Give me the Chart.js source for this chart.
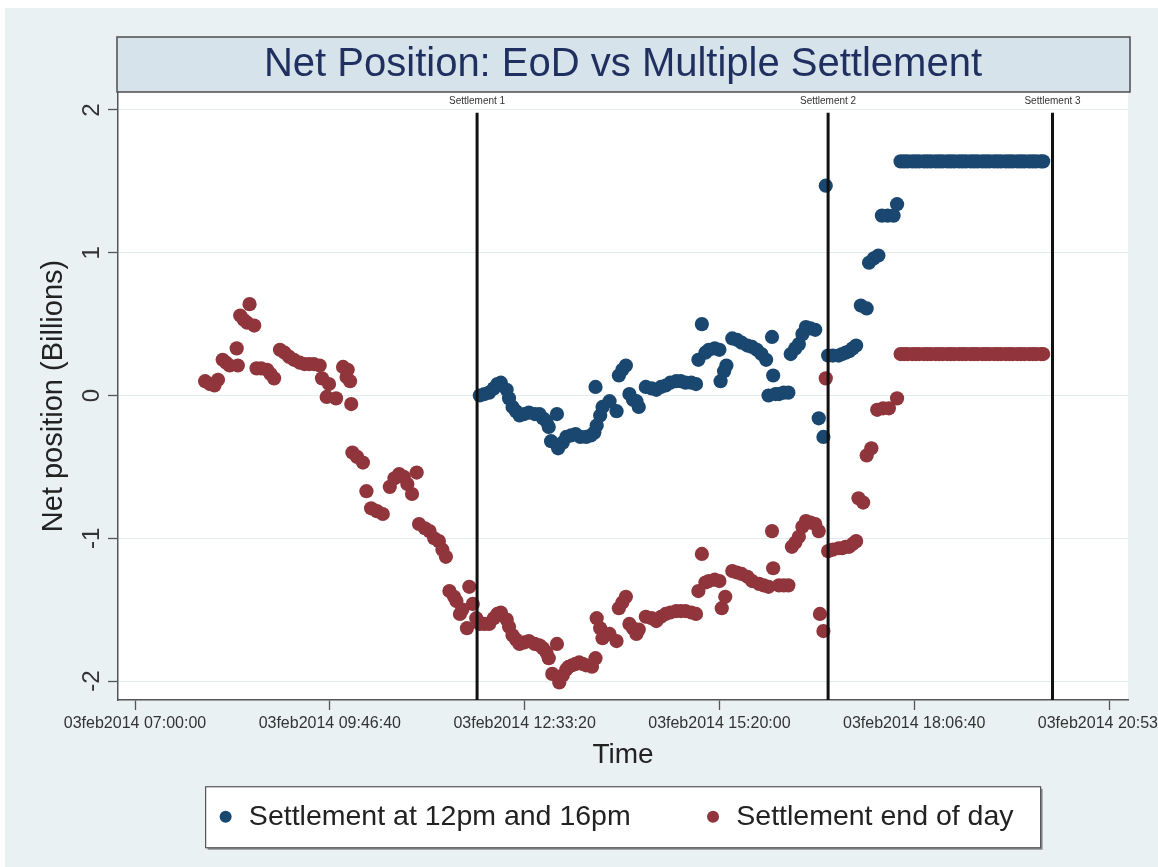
<!DOCTYPE html>
<html><head><meta charset="utf-8">
<script src="https://cdn.jsdelivr.net/npm/chart.js@4.4.1/dist/chart.umd.min.js"></script>
<style>html,body{margin:0;padding:0;background:#fff;overflow:hidden}canvas{display:block}</style>
</head><body>
<canvas id="c" width="1158" height="867"></canvas>
<script>
const chartTitle = 'Net Position: EoD vs Multiple Settlement';
const xTitle = 'Time';
const yTitle = 'Net position (Billions)';
const datePrefix = '03feb2014';
const xTickTimes = ['07:00:00','09:46:40','12:33:20','15:20:00','18:06:40','20:53:20'];
const yTickValues = [-2,-1,0,1,2];
const seriesNames = ['Settlement at 12pm and 16pm','Settlement end of day'];
const settlementNames = ['Settlement 1','Settlement 2','Settlement 3'];
const settlementTimes = ['11:52:40','16:53:00','20:05:00'];

// Settlement at 12pm and 16pm
const multiTimes = ['11:55','11:59','12:03','12:07','12:10','12:13','12:18','12:20','12:23','12:26','12:29','12:33','12:37','12:42','12:46','12:49','12:52','12:54','12:56','13:01','13:02','13:06','13:09','13:13','13:17','13:21','13:26','13:30','13:33','13:34','13:35','13:38','13:40','13:46','13:52','13:54','13:57','14:00','14:03','14:06','14:09','14:11','14:17','14:22','14:26','14:30','14:34','14:38','14:43','14:47','14:51','14:56','15:00','15:02','15:05','15:08','15:11','15:16','15:20','15:21','15:24','15:26','15:31','15:35','15:39','15:44','15:48','15:52','15:56','16:00','16:02','16:05','16:06','16:08','16:11','16:15','16:19','16:21','16:25','16:28','16:31','16:34','16:38','16:42','16:45','16:49','16:51','16:53','16:57','17:02','17:05','17:08','17:11','17:14','17:17','17:21','17:26','17:28','17:32','17:36','17:39','17:44','17:49','17:52'];
const multiValues = [0.00,0.01,0.02,0.05,0.08,0.09,0.04,-0.02,-0.08,-0.11,-0.14,-0.13,-0.12,-0.13,-0.13,-0.16,-0.18,-0.22,-0.32,-0.13,-0.37,-0.33,-0.29,-0.28,-0.27,-0.29,-0.29,-0.28,-0.26,0.06,-0.21,-0.14,-0.08,-0.04,-0.11,0.14,0.18,0.21,0.01,-0.03,-0.04,-0.08,0.06,0.05,0.04,0.06,0.07,0.09,0.10,0.10,0.09,0.09,0.08,0.25,0.50,0.30,0.32,0.33,0.32,0.10,0.17,0.21,0.40,0.39,0.37,0.35,0.34,0.32,0.29,0.25,0.00,0.41,0.14,0.01,0.01,0.02,0.02,0.29,0.33,0.36,0.43,0.48,0.47,0.46,-0.16,-0.29,1.47,0.28,0.28,0.28,0.29,0.30,0.31,0.33,0.35,0.63,0.61,0.93,0.96,0.98,1.26,1.26,1.26,1.34];

// Settlement end of day
const eodTimes = ['08:00','08:04','08:08','08:11','08:15','08:18','08:21','08:27','08:28','08:30','08:33','08:36','08:38','08:42','08:44','08:48','08:53','08:56','08:59','09:04','09:08','09:12','09:16','09:21','09:25','09:29','09:33','09:38','09:40','09:44','09:46','09:52','09:58','10:01','10:02','10:04','10:05','10:06','10:10','10:15','10:18','10:22','10:27','10:32','10:38','10:42','10:46','10:50','10:53','10:57','11:01','11:03','11:08','11:12','11:16','11:20','11:23','11:26','11:29','11:33','11:35','11:38','11:40','11:44','11:46','11:49','11:52','11:55','11:59','12:03','12:07','12:10','12:13','12:18','12:20','12:23','12:26','12:29','12:33','12:37','12:42','12:46','12:49','12:52','12:54','12:57','13:01','13:03','13:06','13:09','13:11','13:14','13:17','13:20','13:23','13:26','13:31','13:34','13:35','13:38','13:40','13:46','13:52','13:54','13:57','14:00','14:03','14:06','14:09','14:11','14:17','14:22','14:26','14:30','14:34','14:38','14:43','14:47','14:51','14:56','15:00','15:02','15:05','15:08','15:11','15:16','15:20','15:22','15:25','15:31','15:35','15:39','15:44','15:48','15:54','15:58','16:02','16:05','16:06','16:11','16:15','16:19','16:22','16:25','16:28','16:31','16:34','16:38','16:42','16:45','16:46','16:49','16:51','16:53','16:57','17:02','17:05','17:08','17:11','17:14','17:17','17:19','17:23','17:26','17:30','17:35','17:40','17:45','17:52'];
const eodValues = [0.10,0.08,0.07,0.11,0.25,0.23,0.21,0.33,0.21,0.56,0.53,0.51,0.64,0.49,0.19,0.19,0.18,0.15,0.12,0.32,0.30,0.27,0.25,0.23,0.22,0.22,0.22,0.21,0.12,-0.01,0.08,-0.02,0.20,0.13,0.18,0.10,-0.06,-0.40,-0.43,-0.47,-0.67,-0.79,-0.81,-0.83,-0.64,-0.58,-0.55,-0.57,-0.62,-0.69,-0.54,-0.90,-0.93,-0.95,-1.00,-1.02,-1.08,-1.13,-1.37,-1.41,-1.44,-1.53,-1.50,-1.63,-1.34,-1.46,-1.56,-1.60,-1.60,-1.60,-1.56,-1.53,-1.52,-1.57,-1.62,-1.68,-1.71,-1.74,-1.73,-1.72,-1.74,-1.75,-1.77,-1.80,-1.84,-1.95,-1.74,-2.01,-1.96,-1.92,-1.90,-1.89,-1.88,-1.87,-1.88,-1.89,-1.90,-1.84,-1.56,-1.63,-1.70,-1.67,-1.72,-1.49,-1.45,-1.41,-1.60,-1.63,-1.67,-1.64,-1.55,-1.56,-1.58,-1.55,-1.53,-1.52,-1.51,-1.51,-1.51,-1.52,-1.53,-1.37,-1.11,-1.31,-1.30,-1.29,-1.30,-1.49,-1.41,-1.23,-1.24,-1.25,-1.27,-1.30,-1.32,-1.33,-1.34,-0.95,-1.21,-1.33,-1.33,-1.33,-1.06,-1.03,-0.99,-0.92,-0.88,-0.89,-0.90,-0.95,-1.53,-1.65,0.12,-1.09,-1.08,-1.07,-1.07,-1.06,-1.06,-1.04,-1.02,-0.72,-0.75,-0.42,-0.37,-0.10,-0.09,-0.09,-0.02];

// after the last settlement window both series stay flat
const closingTimes = ['17:55','17:58','18:01','18:05','18:08','18:11','18:15','18:18','18:21','18:25','18:28','18:31','18:35','18:38','18:41','18:45','18:48','18:51','18:55','18:58','19:01','19:05','19:08','19:11','19:15','19:18','19:21','19:25','19:28','19:31','19:35','19:38','19:41','19:45','19:48','19:51','19:55','19:57'];
const multiClosingValues = [1.64,1.64,1.64,1.64,1.64,1.64,1.64,1.64,1.64,1.64,1.64,1.64,1.64,1.64,1.64,1.64,1.64,1.64,1.64,1.64,1.64,1.64,1.64,1.64,1.64,1.64,1.64,1.64,1.64,1.64,1.64,1.64,1.64,1.64,1.64,1.64,1.64,1.64];
const eodClosingValues = [0.29,0.29,0.29,0.29,0.29,0.29,0.29,0.29,0.29,0.29,0.29,0.29,0.29,0.29,0.29,0.29,0.29,0.29,0.29,0.29,0.29,0.29,0.29,0.29,0.29,0.29,0.29,0.29,0.29,0.29,0.29,0.29,0.29,0.29,0.29,0.29,0.29,0.29];

const FONT = "'Liberation Sans', Arial, Helvetica, sans-serif";
Chart.defaults.font.family = FONT;
Chart.defaults.color = '#333';

function toSec(t){ const p = t.split(':').map(Number); return p[0]*3600 + p[1]*60 + (p[2]||0); }
function fmt(s){ s = Math.round(s); const h=Math.floor(s/3600), m=Math.floor((s%3600)/60), x=s%60; const z=n=>String(n).padStart(2,'0'); return z(h)+':'+z(m)+':'+z(x); }
function pts(times, vals){ return times.map((t,i)=>({x: toSec(t), y: vals[i]})); }

const BLUE = '#1a476f', RED = '#90353b';
const xMin = toSec('06:45:27'), xMax = toSec('21:09:35');
const yMin = -2.133, yMax = 2.126;

const datasets = [
  {label: seriesNames[0], data: pts(multiTimes, multiValues).concat(pts(closingTimes, multiClosingValues)),
   backgroundColor: BLUE, borderColor: BLUE, pointRadius: 7.1, borderWidth: 0, order: 2},
  {label: seriesNames[1], data: pts(eodTimes, eodValues).concat(pts(closingTimes, eodClosingValues)),
   backgroundColor: RED, borderColor: RED, pointRadius: 7.1, borderWidth: 0, order: 1}
];
settlementTimes.forEach((t,i)=>{
  datasets.push({type:'line', label: settlementNames[i], data:[{x:toSec(t), y:1.98},{x:toSec(t), y:yMin-0.1}],
    borderColor:'#111', borderWidth:3, pointRadius:0, showLine:true, order:0});
});

const decor = {
  id: 'decor',
  beforeDraw(chart){
    const {ctx, chartArea:a} = chart;
    ctx.save();
    ctx.fillStyle = '#ffffff'; ctx.fillRect(0,0,chart.width,chart.height);
    ctx.fillStyle = '#eaf1f3'; ctx.fillRect(5,8,chart.width-5,chart.height-8);
    ctx.fillStyle = '#ffffff'; ctx.fillRect(a.left,a.top,a.right-a.left,a.bottom-a.top);
    const t = chart.titleBlock;
    ctx.fillStyle = '#d7e3ea'; ctx.fillRect(t.left-1, t.top, t.width+3, t.height);
    ctx.strokeStyle = '#4d4d4d'; ctx.lineWidth = 1.5; ctx.strokeRect(t.left-1, t.top, t.width+3, t.height);
    const hb = chart.legend.legendHitBoxes;
    if (hb && hb.length){
      const cy = hb[0].top + hb[0].height/2;
      const L = hb[0].left - 11, R = L + 835, T = cy - 30, B = cy + 31;
      ctx.fillStyle = '#8a8f92'; ctx.fillRect(L+2, T+2, R-L, B-T);
      ctx.fillStyle = '#ffffff'; ctx.fillRect(L, T, R-L, B-T);
      ctx.strokeStyle = '#555'; ctx.lineWidth = 1.2; ctx.strokeRect(L, T, R-L, B-T);
    }
    ctx.restore();
  },
  afterDraw(chart){
    const {ctx, chartArea:a} = chart;
    const xs = chart.scales.x, ys = chart.scales.y;
    ctx.save();
    ctx.fillStyle = '#333'; ctx.font = '10px ' + FONT; ctx.textAlign = 'center'; ctx.textBaseline = 'middle';
    settlementTimes.forEach((t,i)=>{ ctx.fillText(settlementNames[i], xs.getPixelForValue(toSec(t)), a.top + 9); });
    ctx.font = '24px ' + FONT; ctx.fillStyle = '#333';
    yTickValues.forEach(v=>{
      ctx.save(); ctx.translate(92, ys.getPixelForValue(v)); ctx.rotate(-Math.PI/2);
      ctx.fillText(String(v), 0, 0); ctx.restore();
    });
    ctx.restore();
  }
};

new Chart(document.getElementById('c'), {
  type: 'scatter',
  data: {datasets},
  plugins: [decor],
  options: {
    responsive: false, animation: false, events: [],
    layout: {padding: {top: 37, left: 0, right: 30, bottom: 26}},
    plugins: {
      tooltip: {enabled: false},
      title: {display: true, text: chartTitle, fullSize: false, color: '#1f2f5f',
        font: {size: 40, weight: 'normal', family: FONT}, padding: {top: 4, bottom: 3}},
      legend: {position: 'bottom', fullSize: false, align: 'center',
        labels: {usePointStyle: true, pointStyle: 'circle', boxWidth: 18, boxHeight: 8.5, padding: 10,
          color: '#222', font: {size: 28.5, family: FONT},
          sort: (a, b) => a.datasetIndex - b.datasetIndex,
          generateLabels(chart){
            const items = Chart.defaults.plugins.legend.labels.generateLabels(chart)
              .filter(it=>it.datasetIndex<2).sort((a,b)=>a.datasetIndex-b.datasetIndex);
            items[0].text = items[0].text + '        ';
            items[1].text = items[1].text + '  ';
            items.forEach(it=>{ it.lineWidth = 0; it.strokeStyle = it.fillStyle; });
            return items;
          }}}
    },
    scales: {
      x: {type: 'linear', min: xMin, max: xMax,
        afterBuildTicks(s){ s.ticks = xTickTimes.map(t=>({value: toSec(t)})); },
        afterFit(s){ s.height = 92.5; s.paddingLeft = 0; s.paddingRight = 0; },
        ticks: {autoSkip: false, maxRotation: 0, minRotation: 0, padding: 4, color: '#333',
          font: {size: 16}, callback: v => datePrefix + ' ' + fmt(v)},
        grid: {drawOnChartArea: false, drawTicks: true, tickLength: 10, tickColor: '#555', tickWidth: 1.3},
        border: {display: true, color: '#555', width: 1.5},
        title: {display: true, text: xTitle, color: '#222', font: {size: 28}, padding: {top: 0, bottom: 20.7}}
      },
      y: {min: yMin, max: yMax,
        afterBuildTicks(s){ s.ticks = yTickValues.map(v=>({value: v})); },
        afterFit(s){ s.width = 118; s.paddingTop = 0; s.paddingBottom = 0; },
        ticks: {display: false},
        grid: {color: '#e2ebee', lineWidth: 1, drawTicks: true, tickLength: 10, tickColor: '#555', tickWidth: 1.3},
        border: {display: true, color: '#555', width: 1.5},
        title: {display: true, text: yTitle, color: '#222', font: {size: 29}, padding: {top: 36.6, bottom: 0}}
      }
    }
  }
});
</script>
</body></html>
